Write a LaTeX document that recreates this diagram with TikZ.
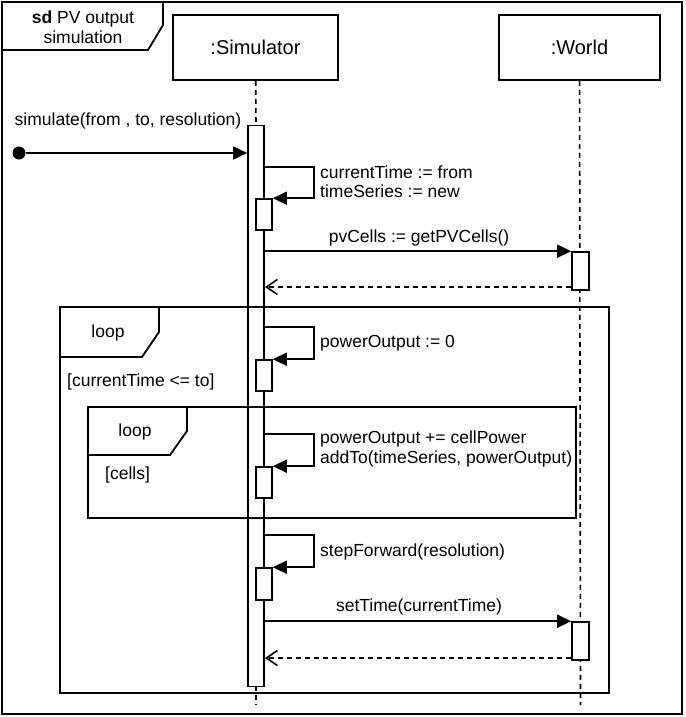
\documentclass[tikz,border=0pt]{standalone}
\usepackage{fontspec}
\setmainfont{Liberation Sans}
\usetikzlibrary{arrows.meta}

\tikzset{
  every node/.style={font=\fontsize{17.5}{19.5}\selectfont, inner sep=2pt},
  objbox/.style={draw, line width=1.6pt, minimum width=165, minimum height=65, font=\fontsize{20}{24}\selectfont},
  actbar/.style={draw, fill=white, line width=1.6pt, minimum width=16, inner sep=0pt},
  lifeline/.style={line width=1.6pt, dash pattern=on 5pt off 4pt},
  call/.style={line width=1.6pt, -{Triangle[length=14pt,width=13pt]}},
  reply/.style={line width=1.6pt, dash pattern=on 5pt off 4pt, -{Straight Barb[length=11pt,width=15pt]}},
  frame/.style={line width=1.8pt}
}

\begin{document}
\begin{tikzpicture}[x=1pt,y=-1pt]
		\useasboundingbox (0,0) rectangle (685,717);

		\node[objbox] at (255.5,47.5) (sim) {:Simulator};
		\node[objbox, minimum width=161] at (579.5,47.5) (world) {:World};
		\coordinate (simend) at (256,705);
		\coordinate (worldend) at (580.5,705);

		\draw[lifeline] (sim) -- (256,126);
		\draw[lifeline] (256,686) -- (simend);
		\draw[lifeline] (world) -- (worldend);

		\node[actbar, minimum height=561] at (256,406) (simact) {};
		\node[actbar, minimum height=31] at (264,214.5) (sub1) {};
		\node[actbar, minimum height=31] at (264,375.5) (sub2) {};
		\node[actbar, minimum height=31] at (264,482.5) (sub3) {};
		\node[actbar, minimum height=32] at (264,584) (sub4) {};
		\node[actbar, minimum width=17, minimum height=38] at (580.5,271) (worldact1) {};
		\node[actbar, minimum width=17, minimum height=38] at (580.5,641) (worldact2) {};

		% found message
		\node[circle, fill, inner sep=0pt, minimum size=13] at (19,153) (start) {};
		\draw[call] (start) -- (simact.west |- start);
		\node at (128,121) (simlbl) {simulate(from , to, resolution)};

		% self calls
		\draw[call] (simact.east |- 0,167) -- ++(49,0) |- (sub1.north east);
		\node[anchor=west, align=left] at (318,181.5) (lbl1) {currentTime := from\\timeSeries := new};
		\draw[call] (simact.east |- 0,327) -- ++(49,0) |- (sub2.north east);
		\node[anchor=west] at (318,343) (lbl2) {powerOutput := 0};
		\draw[call] (simact.east |- 0,434) -- ++(49,0) |- (sub3.north east);
		\node[anchor=west, align=left] at (318,449) (lbl3) {powerOutput += cellPower\\addTo(timeSeries, powerOutput)};
		\draw[call] (simact.east |- 0,535) -- ++(49,0) |- (sub4.north east);
		\node[anchor=west] at (318,552) (lbl4) {stepForward(resolution)};

		% calls to the world
		\draw[call] (simact.east |- worldact1.north) -- (worldact1.north west);
		\node at (419,238) (pvlbl) {pvCells := getPVCells()};
		\draw[reply] (worldact1.west |- 0,287) -- (265,287);
		\draw[call] (simact.east |- worldact2.north) -- (worldact2.north west);
		\node at (419,607) (timelbl) {setTime(currentTime)};
		\draw[reply] (worldact2.west |- 0,658) -- (265,658);

		% frames
		\draw[frame] (2,2) rectangle (682,714);
		\draw[frame] (2,50) -- (148,50) -- (163,25) -- (163,2);
		\node[align=center] at (83,27) (title) {\textbf{sd} PV output\\simulation};

		\draw[frame] (60,307) rectangle (609,693);
		\draw[frame] (60,357) -- (142,357) -- (159,332) -- (159,307);
		\node at (108,333) (outerloop) {loop};
		\node[anchor=west] at (65,382) (outerguard) {[currentTime <= to]};

		\draw[frame] (88,407) rectangle (576,518);
		\draw[frame] (88,455) -- (170,455) -- (187,431) -- (187,407);
		\node at (135,432) (innerloop) {loop};
		\node[anchor=west] at (103,475) (innerguard) {[cells]};
	\end{tikzpicture}
\end{document}
